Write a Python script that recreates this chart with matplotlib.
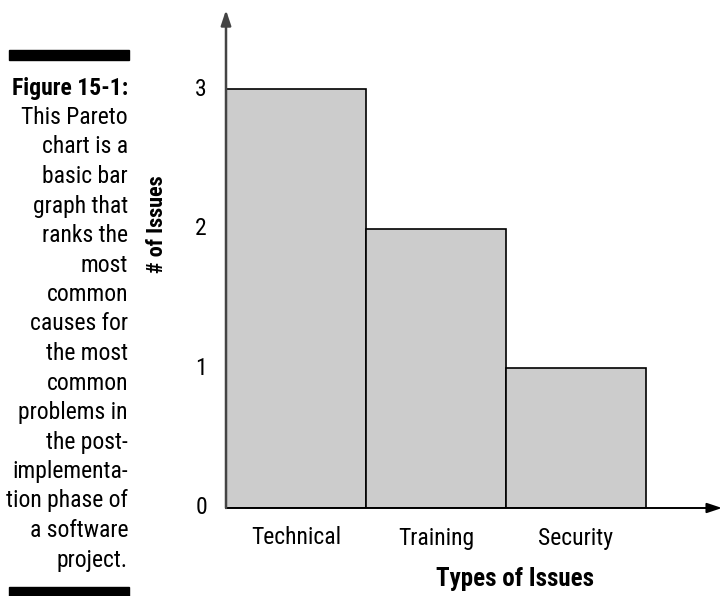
import matplotlib
matplotlib.use("Agg")
import matplotlib.pyplot as plt
from matplotlib.patches import Rectangle

# Chart data
categories = ["Technical", "Training", "Security"]
issue_counts = [3, 2, 1]
y_ticks = [0, 1, 2, 3]
x_label = "Types of Issues"
y_label = "# of Issues"

caption_title = "Figure 15-1:"
caption_lines = [
    "This Pareto", "chart is a", "basic bar", "graph that", "ranks the",
    "most", "common", "causes for", "the most", "common", "problems in",
    "the post-", "implementa-", "tion phase of", "a software", "project.",
]

W, H = 722, 596
FONT = ["Liberation Sans Narrow", "Roboto Condensed", "DejaVu Sans Condensed", "DejaVu Sans"]
plt.rcParams["font.family"] = FONT

fig = plt.figure(figsize=(W / 100, H / 100), dpi=100)


def fx(px):
    return px / W


def fy(py):
    return 1 - py / H


# Axes spanning from the y axis to the arrow tips
x0, x1 = 226, 722
y0, y1 = 508, 10
unit_x = 140.0
unit_y = (508 - 89) / 3.0
ax = fig.add_axes([fx(x0), fy(y0), fx(x1) - fx(x0), fy(y1) - fy(y0)])
ax.set_xlim(0, (x1 - x0) / unit_x)
ax.set_ylim(0, (y0 - y1) / unit_y)
ax.axis("off")

# Bars
for i, v in enumerate(issue_counts):
    ax.add_patch(Rectangle((i, 0), 1, v, facecolor="#cccccc",
                           edgecolor="black", linewidth=1.2, zorder=2))

# Axis arrows
ax.annotate("", xy=(ax.get_xlim()[1], 0), xytext=(0, 0),
            xycoords="data", annotation_clip=False,
            arrowprops=dict(arrowstyle="-|>,head_length=0.9,head_width=0.3",
                            color="black", lw=1.4, shrinkA=0, shrinkB=0), zorder=3)
ax.annotate("", xy=(0, ax.get_ylim()[1]), xytext=(0, 0),
            xycoords="data", annotation_clip=False,
            arrowprops=dict(arrowstyle="-|>,head_length=0.9,head_width=0.3",
                            color="#444444", lw=1.8, shrinkA=0, shrinkB=0), zorder=3)

# Tick labels
for t in y_ticks:
    ax.text(-19 / unit_x, t, str(t), ha="right", va="center", fontsize=17)
for i, c in enumerate(categories):
    ax.text(i + 0.5, -30 / unit_y, c, ha="center", va="center", fontsize=17)

# Axis titles
fig.text(fx(157), fy(224), y_label, rotation=90, ha="center", va="center",
         fontsize=16, fontweight="bold")
fig.text(fx(515), fy(579), x_label, ha="center", va="center",
         fontsize=18, fontweight="bold")

# Caption column with rules above and below
fig.patches.append(Rectangle((fx(9), fy(60)), fx(129) - fx(9), fy(50) - fy(60),
                             transform=fig.transFigure, color="black"))
fig.patches.append(Rectangle((fx(9), fy(596)), fx(129) - fx(9), fy(587) - fy(596),
                             transform=fig.transFigure, color="black"))
line_gap = 29.5
fig.text(fx(128), fy(88), caption_title, ha="right", va="center",
         fontsize=17, fontweight="bold")
for k, line in enumerate(caption_lines, start=1):
    fig.text(fx(128), fy(88 + k * line_gap), line, ha="right", va="center",
             fontsize=17)

fig.savefig("out.png", dpi=100, facecolor="white")
